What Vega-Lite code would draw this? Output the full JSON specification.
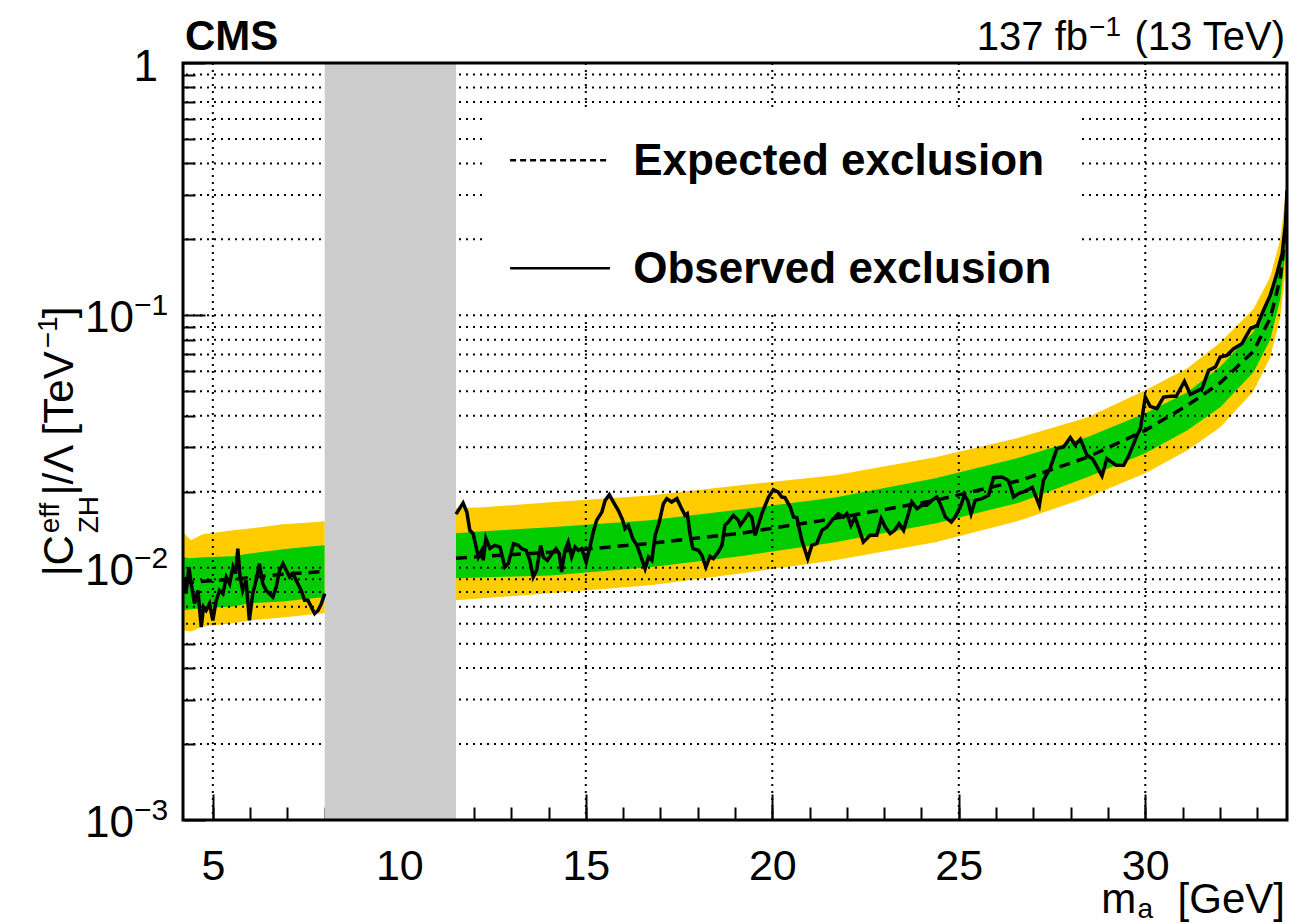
{
  "$schema": "https://vega.github.io/schema/vega-lite/v6.json",
  "width": 1104,
  "height": 757,
  "autosize": "none",
  "padding": {"left": 183, "top": 63, "right": 28, "bottom": 104},
  "background": "white",
  "config": {"view": {"stroke": null}, "font": "Liberation Sans", "text": {"font": "Liberation Sans", "color": "black"}},
  "data": {"values": [{}]},
  "datasets": {
    "band": [
      {"seg": "a", "m": 4.2, "s2lo": 0.00564, "s1lo": 0.00677, "exp": 0.00867, "s1hi": 0.01099, "s2hi": 0.0138},
      {"seg": "a", "m": 4.41, "s2lo": 0.00559, "s1lo": 0.00684, "exp": 0.00874, "s1hi": 0.01089, "s2hi": 0.01283},
      {"seg": "a", "m": 4.73, "s2lo": 0.00585, "s1lo": 0.0069, "exp": 0.00883, "s1hi": 0.01099, "s2hi": 0.01355},
      {"seg": "a", "m": 5.54, "s2lo": 0.00602, "s1lo": 0.00702, "exp": 0.00899, "s1hi": 0.01109, "s2hi": 0.01406},
      {"seg": "a", "m": 5.99, "s2lo": 0.00618, "s1lo": 0.00722, "exp": 0.00915, "s1hi": 0.01139, "s2hi": 0.01431},
      {"seg": "a", "m": 6.88, "s2lo": 0.00635, "s1lo": 0.00735, "exp": 0.00941, "s1hi": 0.01182, "s2hi": 0.01485},
      {"seg": "a", "m": 7.68, "s2lo": 0.00653, "s1lo": 0.00756, "exp": 0.00958, "s1hi": 0.01215, "s2hi": 0.01512},
      {"seg": "a", "m": 8.0, "s2lo": 0.00659, "s1lo": 0.00763, "exp": 0.00967, "s1hi": 0.01226, "s2hi": 0.01526},
      {"seg": "b", "m": 11.52, "s2lo": 0.00742, "s1lo": 0.00907, "exp": 0.01089, "s1hi": 0.01368, "s2hi": 0.01718},
      {"seg": "b", "m": 12.24, "s2lo": 0.00756, "s1lo": 0.00915, "exp": 0.01109, "s1hi": 0.01393, "s2hi": 0.01734},
      {"seg": "b", "m": 14.04, "s2lo": 0.00791, "s1lo": 0.00932, "exp": 0.0115, "s1hi": 0.01445, "s2hi": 0.01815},
      {"seg": "b", "m": 16.72, "s2lo": 0.00851, "s1lo": 0.01003, "exp": 0.01248, "s1hi": 0.0154, "s2hi": 0.01934},
      {"seg": "b", "m": 19.14, "s2lo": 0.00949, "s1lo": 0.01109, "exp": 0.01368, "s1hi": 0.01702, "s2hi": 0.02119},
      {"seg": "b", "m": 21.68, "s2lo": 0.01069, "s1lo": 0.0126, "exp": 0.01568, "s1hi": 0.01899, "s2hi": 0.02322},
      {"seg": "b", "m": 24.37, "s2lo": 0.0126, "s1lo": 0.01498, "exp": 0.01848, "s1hi": 0.02259, "s2hi": 0.02736},
      {"seg": "b", "m": 26.65, "s2lo": 0.0154, "s1lo": 0.01815, "exp": 0.02218, "s1hi": 0.02736, "s2hi": 0.03284},
      {"seg": "b", "m": 28.44, "s2lo": 0.01899, "s1lo": 0.0228, "exp": 0.02736, "s1hi": 0.03284, "s2hi": 0.03941},
      {"seg": "b", "m": 30.0, "s2lo": 0.02365, "s1lo": 0.02838, "exp": 0.03501, "s1hi": 0.04088, "s2hi": 0.05043},
      {"seg": "b", "m": 31.13, "s2lo": 0.02917, "s1lo": 0.03501, "exp": 0.04398, "s1hi": 0.04952, "s2hi": 0.06164},
      {"seg": "b", "m": 32.01, "s2lo": 0.036, "s1lo": 0.0432, "exp": 0.054, "s1hi": 0.0625, "s2hi": 0.078},
      {"seg": "b", "m": 32.9, "s2lo": 0.05, "s1lo": 0.0595, "exp": 0.072, "s1hi": 0.086, "s2hi": 0.106},
      {"seg": "b", "m": 33.35, "s2lo": 0.068, "s1lo": 0.08, "exp": 0.0975, "s1hi": 0.116, "s2hi": 0.142},
      {"seg": "b", "m": 33.62, "s2lo": 0.098, "s1lo": 0.116, "exp": 0.14, "s1hi": 0.165, "s2hi": 0.2},
      {"seg": "b", "m": 33.76, "s2lo": 0.15, "s1lo": 0.178, "exp": 0.215, "s1hi": 0.252, "s2hi": 0.3},
      {"seg": "b", "m": 33.8, "s2lo": 0.195, "s1lo": 0.23, "exp": 0.28, "s1hi": 0.33, "s2hi": 0.4}
    ],
    "obs": [
      {"seg": "a", "m": 4.2, "v": 0.00864}, {"seg": "a", "m": 4.24, "v": 0.00918}, {"seg": "a", "m": 4.28, "v": 0.00789},
      {"seg": "a", "m": 4.36, "v": 0.01005}, {"seg": "a", "m": 4.42, "v": 0.00864}, {"seg": "a", "m": 4.51, "v": 0.0072},
      {"seg": "a", "m": 4.6, "v": 0.00813}, {"seg": "a", "m": 4.69, "v": 0.00582}, {"seg": "a", "m": 4.75, "v": 0.00698},
      {"seg": "a", "m": 4.82, "v": 0.00677}, {"seg": "a", "m": 4.91, "v": 0.0072}, {"seg": "a", "m": 5.0, "v": 0.00618},
      {"seg": "a", "m": 5.09, "v": 0.00742}, {"seg": "a", "m": 5.18, "v": 0.00813}, {"seg": "a", "m": 5.27, "v": 0.00789},
      {"seg": "a", "m": 5.36, "v": 0.00918}, {"seg": "a", "m": 5.45, "v": 0.00864}, {"seg": "a", "m": 5.54, "v": 0.01005},
      {"seg": "a", "m": 5.61, "v": 0.00947}, {"seg": "a", "m": 5.67, "v": 0.01189}, {"seg": "a", "m": 5.73, "v": 0.00918},
      {"seg": "a", "m": 5.8, "v": 0.00813}, {"seg": "a", "m": 5.89, "v": 0.00891}, {"seg": "a", "m": 5.98, "v": 0.00618},
      {"seg": "a", "m": 6.07, "v": 0.00789}, {"seg": "a", "m": 6.16, "v": 0.00891}, {"seg": "a", "m": 6.25, "v": 0.01037},
      {"seg": "a", "m": 6.34, "v": 0.00864}, {"seg": "a", "m": 6.43, "v": 0.00813}, {"seg": "a", "m": 6.52, "v": 0.00789},
      {"seg": "a", "m": 6.61, "v": 0.00765}, {"seg": "a", "m": 6.7, "v": 0.00838}, {"seg": "a", "m": 6.79, "v": 0.00976},
      {"seg": "a", "m": 6.88, "v": 0.01037}, {"seg": "a", "m": 6.97, "v": 0.00976}, {"seg": "a", "m": 7.06, "v": 0.00918},
      {"seg": "a", "m": 7.15, "v": 0.00947}, {"seg": "a", "m": 7.28, "v": 0.00864}, {"seg": "a", "m": 7.37, "v": 0.00813},
      {"seg": "a", "m": 7.46, "v": 0.00742}, {"seg": "a", "m": 7.55, "v": 0.00742}, {"seg": "a", "m": 7.64, "v": 0.00698},
      {"seg": "a", "m": 7.73, "v": 0.00657}, {"seg": "a", "m": 7.82, "v": 0.00677}, {"seg": "a", "m": 7.91, "v": 0.0072},
      {"seg": "a", "m": 8.0, "v": 0.00789},
      {"seg": "b", "m": 11.52, "v": 0.0163}, {"seg": "b", "m": 11.71, "v": 0.01803}, {"seg": "b", "m": 11.81, "v": 0.01661},
      {"seg": "b", "m": 11.89, "v": 0.01406}, {"seg": "b", "m": 11.98, "v": 0.01364}, {"seg": "b", "m": 12.12, "v": 0.01102},
      {"seg": "b", "m": 12.21, "v": 0.01171}, {"seg": "b", "m": 12.25, "v": 0.01069}, {"seg": "b", "m": 12.32, "v": 0.01307},
      {"seg": "b", "m": 12.43, "v": 0.01193}, {"seg": "b", "m": 12.56, "v": 0.01226}, {"seg": "b", "m": 12.7, "v": 0.01207},
      {"seg": "b", "m": 12.83, "v": 0.01005}, {"seg": "b", "m": 12.92, "v": 0.01037}, {"seg": "b", "m": 13.06, "v": 0.01245},
      {"seg": "b", "m": 13.19, "v": 0.01226}, {"seg": "b", "m": 13.28, "v": 0.01189}, {"seg": "b", "m": 13.4, "v": 0.01171},
      {"seg": "b", "m": 13.5, "v": 0.01069}, {"seg": "b", "m": 13.59, "v": 0.00918}, {"seg": "b", "m": 13.68, "v": 0.00976},
      {"seg": "b", "m": 13.79, "v": 0.01226}, {"seg": "b", "m": 13.86, "v": 0.01102}, {"seg": "b", "m": 13.97, "v": 0.01069},
      {"seg": "b", "m": 14.09, "v": 0.01136}, {"seg": "b", "m": 14.2, "v": 0.01189}, {"seg": "b", "m": 14.29, "v": 0.01136},
      {"seg": "b", "m": 14.35, "v": 0.00961}, {"seg": "b", "m": 14.44, "v": 0.01171}, {"seg": "b", "m": 14.53, "v": 0.01263},
      {"seg": "b", "m": 14.62, "v": 0.01102}, {"seg": "b", "m": 14.71, "v": 0.01207}, {"seg": "b", "m": 14.8, "v": 0.01171},
      {"seg": "b", "m": 14.89, "v": 0.01189}, {"seg": "b", "m": 15.01, "v": 0.01052}, {"seg": "b", "m": 15.11, "v": 0.01207},
      {"seg": "b", "m": 15.2, "v": 0.01384}, {"seg": "b", "m": 15.29, "v": 0.0154}, {"seg": "b", "m": 15.43, "v": 0.01661},
      {"seg": "b", "m": 15.52, "v": 0.01848}, {"seg": "b", "m": 15.63, "v": 0.01947}, {"seg": "b", "m": 15.74, "v": 0.0182},
      {"seg": "b", "m": 15.87, "v": 0.01687}, {"seg": "b", "m": 15.99, "v": 0.0154}, {"seg": "b", "m": 16.05, "v": 0.01428},
      {"seg": "b", "m": 16.14, "v": 0.01471}, {"seg": "b", "m": 16.26, "v": 0.01303}, {"seg": "b", "m": 16.37, "v": 0.01226},
      {"seg": "b", "m": 16.45, "v": 0.01136}, {"seg": "b", "m": 16.59, "v": 0.00991}, {"seg": "b", "m": 16.68, "v": 0.01102},
      {"seg": "b", "m": 16.77, "v": 0.01069}, {"seg": "b", "m": 16.86, "v": 0.01343}, {"seg": "b", "m": 16.97, "v": 0.01516},
      {"seg": "b", "m": 17.08, "v": 0.01793}, {"seg": "b", "m": 17.17, "v": 0.01877}, {"seg": "b", "m": 17.3, "v": 0.0182},
      {"seg": "b", "m": 17.44, "v": 0.01877}, {"seg": "b", "m": 17.57, "v": 0.01713}, {"seg": "b", "m": 17.66, "v": 0.01612},
      {"seg": "b", "m": 17.72, "v": 0.01637}, {"seg": "b", "m": 17.8, "v": 0.01343}, {"seg": "b", "m": 17.87, "v": 0.01189},
      {"seg": "b", "m": 18.02, "v": 0.01171}, {"seg": "b", "m": 18.11, "v": 0.01119}, {"seg": "b", "m": 18.22, "v": 0.01005},
      {"seg": "b", "m": 18.33, "v": 0.01109}, {"seg": "b", "m": 18.42, "v": 0.01086}, {"seg": "b", "m": 18.55, "v": 0.01153},
      {"seg": "b", "m": 18.65, "v": 0.01226}, {"seg": "b", "m": 18.73, "v": 0.01471}, {"seg": "b", "m": 18.82, "v": 0.01516},
      {"seg": "b", "m": 18.96, "v": 0.01612}, {"seg": "b", "m": 19.09, "v": 0.0154}, {"seg": "b", "m": 19.14, "v": 0.01471},
      {"seg": "b", "m": 19.36, "v": 0.01637}, {"seg": "b", "m": 19.45, "v": 0.01587}, {"seg": "b", "m": 19.54, "v": 0.01343},
      {"seg": "b", "m": 19.72, "v": 0.01637}, {"seg": "b", "m": 19.9, "v": 0.01905}, {"seg": "b", "m": 20.03, "v": 0.02038},
      {"seg": "b", "m": 20.16, "v": 0.01994}, {"seg": "b", "m": 20.25, "v": 0.01905}, {"seg": "b", "m": 20.34, "v": 0.01894},
      {"seg": "b", "m": 20.48, "v": 0.01739}, {"seg": "b", "m": 20.57, "v": 0.01587}, {"seg": "b", "m": 20.66, "v": 0.01578},
      {"seg": "b", "m": 20.79, "v": 0.01283}, {"seg": "b", "m": 20.95, "v": 0.01086}, {"seg": "b", "m": 21.06, "v": 0.01226},
      {"seg": "b", "m": 21.19, "v": 0.01245}, {"seg": "b", "m": 21.33, "v": 0.01406}, {"seg": "b", "m": 21.46, "v": 0.01448},
      {"seg": "b", "m": 21.6, "v": 0.0154}, {"seg": "b", "m": 21.77, "v": 0.01637}, {"seg": "b", "m": 21.91, "v": 0.01587},
      {"seg": "b", "m": 22.0, "v": 0.01637}, {"seg": "b", "m": 22.11, "v": 0.01471}, {"seg": "b", "m": 22.22, "v": 0.01587},
      {"seg": "b", "m": 22.31, "v": 0.01448}, {"seg": "b", "m": 22.44, "v": 0.01263}, {"seg": "b", "m": 22.53, "v": 0.01303},
      {"seg": "b", "m": 22.62, "v": 0.01343}, {"seg": "b", "m": 22.8, "v": 0.01343}, {"seg": "b", "m": 22.92, "v": 0.01564},
      {"seg": "b", "m": 23.03, "v": 0.01448}, {"seg": "b", "m": 23.16, "v": 0.01364}, {"seg": "b", "m": 23.28, "v": 0.01406},
      {"seg": "b", "m": 23.4, "v": 0.01494}, {"seg": "b", "m": 23.52, "v": 0.01406}, {"seg": "b", "m": 23.61, "v": 0.01564},
      {"seg": "b", "m": 23.74, "v": 0.0182}, {"seg": "b", "m": 23.88, "v": 0.01713}, {"seg": "b", "m": 24.01, "v": 0.01766},
      {"seg": "b", "m": 24.14, "v": 0.01766}, {"seg": "b", "m": 24.28, "v": 0.01848}, {"seg": "b", "m": 24.41, "v": 0.01905},
      {"seg": "b", "m": 24.5, "v": 0.01793}, {"seg": "b", "m": 24.64, "v": 0.01587}, {"seg": "b", "m": 24.8, "v": 0.01516},
      {"seg": "b", "m": 24.9, "v": 0.01587}, {"seg": "b", "m": 25.04, "v": 0.01739}, {"seg": "b", "m": 25.15, "v": 0.01934},
      {"seg": "b", "m": 25.24, "v": 0.01848}, {"seg": "b", "m": 25.33, "v": 0.01637}, {"seg": "b", "m": 25.44, "v": 0.01848},
      {"seg": "b", "m": 25.62, "v": 0.01877}, {"seg": "b", "m": 25.8, "v": 0.01934}, {"seg": "b", "m": 25.93, "v": 0.02274},
      {"seg": "b", "m": 26.16, "v": 0.02286}, {"seg": "b", "m": 26.33, "v": 0.02218}, {"seg": "b", "m": 26.47, "v": 0.01905},
      {"seg": "b", "m": 26.6, "v": 0.01965}, {"seg": "b", "m": 26.78, "v": 0.02012}, {"seg": "b", "m": 26.97, "v": 0.02081},
      {"seg": "b", "m": 27.16, "v": 0.01766}, {"seg": "b", "m": 27.27, "v": 0.02218}, {"seg": "b", "m": 27.45, "v": 0.02475},
      {"seg": "b", "m": 27.63, "v": 0.02962}, {"seg": "b", "m": 27.81, "v": 0.03006}, {"seg": "b", "m": 27.99, "v": 0.03275},
      {"seg": "b", "m": 28.12, "v": 0.03067}, {"seg": "b", "m": 28.26, "v": 0.03231}, {"seg": "b", "m": 28.44, "v": 0.02787},
      {"seg": "b", "m": 28.59, "v": 0.02697}, {"seg": "b", "m": 28.84, "v": 0.02311}, {"seg": "b", "m": 28.97, "v": 0.02704},
      {"seg": "b", "m": 29.22, "v": 0.02544}, {"seg": "b", "m": 29.42, "v": 0.02544}, {"seg": "b", "m": 29.55, "v": 0.02761},
      {"seg": "b", "m": 29.8, "v": 0.03397}, {"seg": "b", "m": 29.87, "v": 0.03556}, {"seg": "b", "m": 30.0, "v": 0.04744},
      {"seg": "b", "m": 30.13, "v": 0.04358}, {"seg": "b", "m": 30.31, "v": 0.04268}, {"seg": "b", "m": 30.49, "v": 0.04744},
      {"seg": "b", "m": 30.69, "v": 0.04775}, {"seg": "b", "m": 30.83, "v": 0.04775}, {"seg": "b", "m": 31.05, "v": 0.05475},
      {"seg": "b", "m": 31.21, "v": 0.04862}, {"seg": "b", "m": 31.52, "v": 0.05122}, {"seg": "b", "m": 31.7, "v": 0.06053},
      {"seg": "b", "m": 31.88, "v": 0.06238}, {"seg": "b", "m": 32.01, "v": 0.06835}, {"seg": "b", "m": 32.19, "v": 0.06942},
      {"seg": "b", "m": 32.37, "v": 0.07379}, {"seg": "b", "m": 32.59, "v": 0.07723}, {"seg": "b", "m": 32.82, "v": 0.08856},
      {"seg": "b", "m": 33.0, "v": 0.09127}, {"seg": "b", "m": 33.17, "v": 0.1047}, {"seg": "b", "m": 33.35, "v": 0.12},
      {"seg": "b", "m": 33.53, "v": 0.1463}, {"seg": "b", "m": 33.67, "v": 0.1756}, {"seg": "b", "m": 33.76, "v": 0.2309},
      {"seg": "b", "m": 33.8, "v": 0.3129}
    ],
    "gx": [{"g": 5}, {"g": 10}, {"g": 15}, {"g": 20}, {"g": 25}, {"g": 30}],
    "gy": [{"g": 0.002}, {"g": 0.003}, {"g": 0.004}, {"g": 0.005}, {"g": 0.006}, {"g": 0.007}, {"g": 0.008}, {"g": 0.009},
           {"g": 0.01}, {"g": 0.02}, {"g": 0.03}, {"g": 0.04}, {"g": 0.05}, {"g": 0.06}, {"g": 0.07}, {"g": 0.08}, {"g": 0.09},
           {"g": 0.1}, {"g": 0.2}, {"g": 0.3}, {"g": 0.4}, {"g": 0.5}, {"g": 0.6}, {"g": 0.7}, {"g": 0.8}, {"g": 0.9}],
    "ylab": [{"v": 0.001, "e": "−3"}, {"v": 0.01, "e": "−2"}, {"v": 0.1, "e": "−1"}]
  },
  "layer": [
    {
      "data": {"name": "band"},
      "mark": {"type": "area", "orient": "vertical", "color": "#ffcc00", "clip": true},
      "encoding": {
        "x": {"field": "m", "type": "quantitative",
              "scale": {"domain": [4.2, 33.8], "nice": false, "zero": false},
              "axis": {"orient": "bottom", "values": [5, 10, 15, 20, 25, 30], "ticks": false, "domain": false, "grid": false,
                       "labelFontSize": 43, "labelFont": "Liberation Sans", "labelColor": "black", "labelPadding": 25,
                       "labelFlush": false, "labelOverlap": false, "title": null}},
        "y": {"field": "s2lo", "type": "quantitative",
              "scale": {"type": "log", "domain": [0.001, 1], "nice": false},
              "axis": {"orient": "left", "values": [0.001, 0.01, 0.1, 1], "ticks": true, "tickSize": -22, "tickWidth": 2,
                       "tickColor": "black", "labels": false, "domain": false, "grid": false, "title": null}},
        "y2": {"field": "s2hi"},
        "detail": {"field": "seg"}
      }
    },
    {
      "data": {"name": "band"},
      "mark": {"type": "area", "orient": "vertical", "color": "#00cc00", "clip": true},
      "encoding": {
        "x": {"field": "m", "type": "quantitative",
              "axis": {"orient": "bottom", "values": [5, 10, 15, 20, 25, 30], "ticks": true, "tickSize": -26, "tickWidth": 2,
                       "tickColor": "black", "labels": false, "domain": false, "grid": false, "title": null}},
        "y": {"field": "s1lo", "type": "quantitative",
              "axis": {"orient": "left",
                       "values": [0.002, 0.003, 0.004, 0.005, 0.006, 0.007, 0.008, 0.009, 0.02, 0.03, 0.04, 0.05, 0.06, 0.07, 0.08, 0.09, 0.2, 0.3, 0.4, 0.5, 0.6, 0.7, 0.8, 0.9],
                       "ticks": true, "tickSize": -12, "tickWidth": 2, "tickColor": "black", "labels": false, "domain": false,
                       "grid": false, "title": null}},
        "y2": {"field": "s1hi"},
        "detail": {"field": "seg"}
      }
    },
    {
      "data": {"name": "gx"},
      "mark": {"type": "rule", "color": "black", "strokeWidth": 2, "strokeDash": [2, 5]},
      "encoding": {"x": {"field": "g", "type": "quantitative", "axis": null}}
    },
    {
      "data": {"name": "gy"},
      "mark": {"type": "rule", "color": "black", "strokeWidth": 2, "strokeDash": [2, 5]},
      "encoding": {"y": {"field": "g", "type": "quantitative", "axis": null}}
    },
    {
      "mark": {"type": "rect", "color": "#cccccc"},
      "encoding": {
        "x": {"datum": 8.0, "type": "quantitative", "axis": null},
        "x2": {"datum": 11.52},
        "y": {"datum": 0.001, "type": "quantitative", "axis": null},
        "y2": {"datum": 1}
      }
    },
    {
      "data": {"name": "band"},
      "mark": {"type": "line", "color": "black", "strokeWidth": 3.5, "strokeDash": [11, 7], "clip": true},
      "encoding": {
        "x": {"field": "m", "type": "quantitative",
              "axis": {"orient": "bottom", "values": [5, 6, 7, 8, 9, 10, 11, 12, 13, 14, 15, 16, 17, 18, 19, 20, 21, 22, 23, 24, 25, 26, 27, 28, 29, 30, 31, 32, 33],
                       "ticks": true, "tickSize": -13, "tickWidth": 2, "tickColor": "black", "labels": false, "domain": false,
                       "grid": false, "title": null}},
        "y": {"field": "exp", "type": "quantitative", "axis": null},
        "detail": {"field": "seg"}
      }
    },
    {
      "data": {"name": "obs"},
      "mark": {"type": "line", "color": "black", "strokeWidth": 3.5, "strokeJoin": "miter", "clip": true},
      "encoding": {
        "x": {"field": "m", "type": "quantitative", "axis": null},
        "y": {"field": "v", "type": "quantitative", "axis": null},
        "detail": {"field": "seg"}
      }
    },
    {
      "mark": {"type": "rect", "color": "white"},
      "encoding": {
        "x": {"datum": 12.35, "type": "quantitative", "axis": null},
        "x2": {"datum": 28.2},
        "y": {"datum": 0.1028, "type": "quantitative", "axis": null},
        "y2": {"datum": 0.6613}
      }
    },
    {
      "mark": {"type": "rule", "color": "black", "strokeWidth": 2.5, "strokeDash": [6, 4]},
      "encoding": {
        "x": {"datum": 12.97, "type": "quantitative", "axis": null},
        "x2": {"datum": 15.65},
        "y": {"datum": 0.4114, "type": "quantitative", "axis": null}
      }
    },
    {
      "mark": {"type": "rule", "color": "black", "strokeWidth": 2.5},
      "encoding": {
        "x": {"datum": 12.97, "type": "quantitative", "axis": null},
        "x2": {"datum": 15.65},
        "y": {"datum": 0.1535, "type": "quantitative", "axis": null}
      }
    },
    {
      "mark": {"type": "text", "text": "Expected exclusion", "fontSize": 44, "fontWeight": "bold", "align": "left", "baseline": "middle", "dy": 2},
      "encoding": {
        "x": {"datum": 16.27, "type": "quantitative", "axis": null},
        "y": {"datum": 0.4114, "type": "quantitative", "axis": null}
      }
    },
    {
      "mark": {"type": "text", "text": "Observed exclusion", "fontSize": 44, "fontWeight": "bold", "align": "left", "baseline": "middle", "dy": 2},
      "encoding": {
        "x": {"datum": 16.27, "type": "quantitative", "axis": null},
        "y": {"datum": 0.1535, "type": "quantitative", "axis": null}
      }
    },
    {
      "mark": {"type": "rect", "fill": null, "fillOpacity": 0, "stroke": "black", "strokeWidth": 3},
      "encoding": {
        "x": {"datum": 4.2, "type": "quantitative", "axis": null},
        "x2": {"datum": 33.8},
        "y": {"datum": 0.001, "type": "quantitative", "axis": null},
        "y2": {"datum": 1}
      }
    },
    {
      "data": {"name": "ylab"},
      "mark": {"type": "text", "text": "10", "fontSize": 44, "align": "right", "baseline": "middle", "dx": -49, "dy": 4},
      "encoding": {
        "x": {"datum": 4.2, "type": "quantitative", "axis": null},
        "y": {"field": "v", "type": "quantitative", "axis": null}
      }
    },
    {
      "data": {"name": "ylab"},
      "mark": {"type": "text", "fontSize": 30, "align": "left", "baseline": "middle", "dx": -49, "dy": -9},
      "encoding": {
        "x": {"datum": 4.2, "type": "quantitative", "axis": null},
        "y": {"field": "v", "type": "quantitative", "axis": null},
        "text": {"field": "e"}
      }
    },
    {
      "mark": {"type": "text", "text": "1", "fontSize": 44, "align": "right", "baseline": "middle", "dx": -25, "dy": 5},
      "encoding": {
        "x": {"datum": 4.2, "type": "quantitative", "axis": null},
        "y": {"datum": 1, "type": "quantitative", "axis": null}
      }
    },
    {
      "mark": {"type": "text", "text": "CMS", "fontSize": 42, "fontWeight": "bold", "align": "left", "baseline": "alphabetic", "dx": 2, "dy": -13},
      "encoding": {
        "x": {"datum": 4.2, "type": "quantitative", "axis": null},
        "y": {"datum": 1, "type": "quantitative", "axis": null}
      }
    },
    {
      "mark": {"type": "text", "text": "(13 TeV)", "fontSize": 40, "align": "right", "baseline": "alphabetic", "dx": -2, "dy": -13},
      "encoding": {
        "x": {"datum": 33.8, "type": "quantitative", "axis": null},
        "y": {"datum": 1, "type": "quantitative", "axis": null}
      }
    },
    {
      "mark": {"type": "text", "text": "−1", "fontSize": 28, "align": "right", "baseline": "alphabetic", "dx": -166, "dy": -27},
      "encoding": {
        "x": {"datum": 33.8, "type": "quantitative", "axis": null},
        "y": {"datum": 1, "type": "quantitative", "axis": null}
      }
    },
    {
      "mark": {"type": "text", "text": "137 fb", "fontSize": 40, "align": "right", "baseline": "alphabetic", "dx": -199, "dy": -13},
      "encoding": {
        "x": {"datum": 33.8, "type": "quantitative", "axis": null},
        "y": {"datum": 1, "type": "quantitative", "axis": null}
      }
    },
    {
      "mark": {"type": "text", "text": "m", "fontSize": 42, "align": "left", "baseline": "alphabetic", "dy": 93},
      "encoding": {
        "x": {"datum": 28.82, "type": "quantitative", "axis": null},
        "y": {"datum": 0.001, "type": "quantitative", "axis": null}
      }
    },
    {
      "mark": {"type": "text", "text": "a", "fontSize": 28, "align": "left", "baseline": "alphabetic", "dy": 98},
      "encoding": {
        "x": {"datum": 29.79, "type": "quantitative", "axis": null},
        "y": {"datum": 0.001, "type": "quantitative", "axis": null}
      }
    },
    {
      "mark": {"type": "text", "text": "[GeV]", "fontSize": 42, "align": "right", "baseline": "alphabetic", "dx": -2, "dy": 93},
      "encoding": {
        "x": {"datum": 33.8, "type": "quantitative", "axis": null},
        "y": {"datum": 0.001, "type": "quantitative", "axis": null}
      }
    },
    {
      "mark": {"type": "text", "text": "|C", "fontSize": 42, "angle": 270, "align": "left", "baseline": "alphabetic", "dy": -110},
      "encoding": {
        "x": {"datum": 4.2, "type": "quantitative", "axis": null},
        "y": {"datum": 0.009237, "type": "quantitative", "axis": null}
      }
    },
    {
      "mark": {"type": "text", "text": "eff", "fontSize": 28, "angle": 270, "align": "left", "baseline": "alphabetic", "dy": -124},
      "encoding": {
        "x": {"datum": 4.2, "type": "quantitative", "axis": null},
        "y": {"datum": 0.01368, "type": "quantitative", "axis": null}
      }
    },
    {
      "mark": {"type": "text", "text": "ZH", "fontSize": 28, "angle": 270, "align": "left", "baseline": "alphabetic", "dy": -85},
      "encoding": {
        "x": {"datum": 4.2, "type": "quantitative", "axis": null},
        "y": {"datum": 0.01368, "type": "quantitative", "axis": null}
      }
    },
    {
      "mark": {"type": "text", "text": "|/Λ [TeV", "fontSize": 42, "angle": 270, "align": "left", "baseline": "alphabetic", "dy": -110},
      "encoding": {
        "x": {"datum": 4.2, "type": "quantitative", "axis": null},
        "y": {"datum": 0.01934, "type": "quantitative", "axis": null}
      }
    },
    {
      "mark": {"type": "text", "text": "−1", "fontSize": 28, "angle": 270, "align": "left", "baseline": "alphabetic", "dy": -126},
      "encoding": {
        "x": {"datum": 4.2, "type": "quantitative", "axis": null},
        "y": {"datum": 0.07399, "type": "quantitative", "axis": null}
      }
    },
    {
      "mark": {"type": "text", "text": "]", "fontSize": 42, "angle": 270, "align": "left", "baseline": "alphabetic", "dy": -110},
      "encoding": {
        "x": {"datum": 4.2, "type": "quantitative", "axis": null},
        "y": {"datum": 0.09729, "type": "quantitative", "axis": null}
      }
    }
  ],
  "resolve": {"axis": {"x": "independent", "y": "independent"}}
}
